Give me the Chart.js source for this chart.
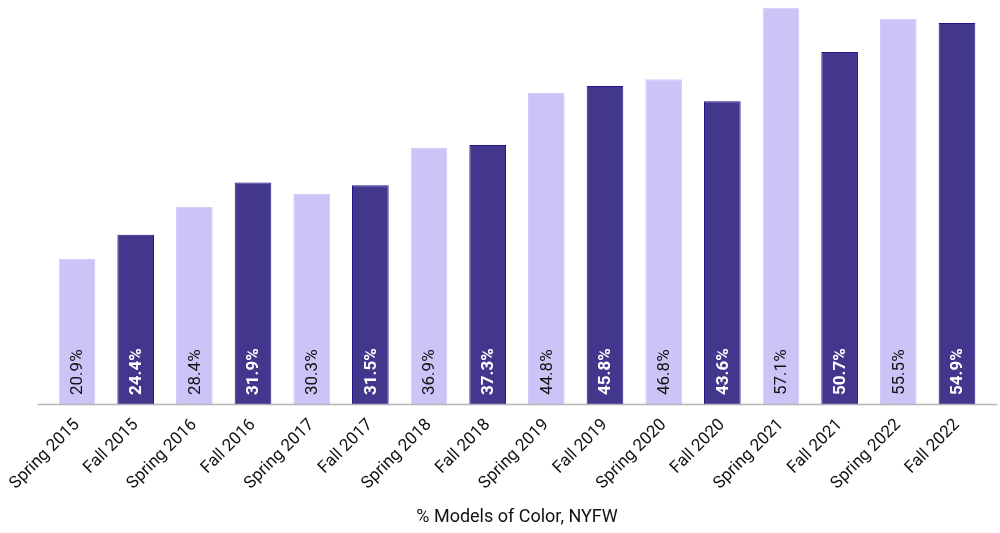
<!DOCTYPE html>
<html>
<head>
<meta charset="utf-8">
<script src="https://cdn.jsdelivr.net/npm/chart.js@4"></script>
<style>
html,body{margin:0;padding:0;background:#fff;}
#wrap{width:1000px;height:533px;position:relative;}
</style>
</head>
<body>
<div id="wrap"><canvas id="c" width="1000" height="533"></canvas></div>
<script>
const categories = ["Spring 2015","Fall 2015","Spring 2016","Fall 2016","Spring 2017","Fall 2017","Spring 2018","Fall 2018","Spring 2019","Fall 2019","Spring 2020","Fall 2020","Spring 2021","Fall 2021","Spring 2022","Fall 2022"];
const values = [20.9,24.4,28.4,31.9,30.3,31.5,36.9,37.3,44.8,45.8,46.8,43.6,57.1,50.7,55.5,54.9];
const axisTitle = "% Models of Color, NYFW";

const LIGHT = "#cbc4f6", LIGHT_BORDER = "#d2ccfb";
const DARK = "#42378c", DARK_BORDER = "#1e1689";
const isDark = categories.map(c => c.startsWith("Fall"));

const labelPlugin = {
  id: "barLabels",
  afterDatasetsDraw(chart) {
    const ctx = chart.ctx;
    const meta = chart.getDatasetMeta(0);
    const yScale = chart.scales.y;
    const base = yScale.getPixelForValue(0);
    ctx.save();
    ctx.strokeStyle = "#b4b4b4";
    ctx.lineWidth = 1.5;
    ctx.beginPath();
    ctx.moveTo(chart.chartArea.left - 10, base + 0.5);
    ctx.lineTo(chart.chartArea.right + 11, base + 0.5);
    ctx.stroke();
    meta.data.forEach((bar, i) => {
      ctx.save();
      ctx.translate(bar.x, bar.base - 9);
      ctx.rotate(-Math.PI / 2);
      ctx.textAlign = "left";
      ctx.textBaseline = "middle";
      ctx.font = (isDark[i] ? "bold " : "") + "17px Roboto";
      ctx.fillStyle = isDark[i] ? "#ffffff" : "#111111";
      ctx.fillText(values[i].toFixed(1) + "%", 0, 1);
      ctx.restore();
    });
    ctx.restore();
  }
};

new Chart(document.getElementById("c"), {
  type: "bar",
  data: {
    labels: categories,
    datasets: [{
      data: values,
      backgroundColor: isDark.map(d => d ? DARK : LIGHT),
      borderColor: isDark.map(d => d ? DARK_BORDER : LIGHT_BORDER),
      borderWidth: 1,
      barPercentage: 0.625,
      categoryPercentage: 1.0
    }]
  },
  options: {
    responsive: false,
    animation: false,
    events: [],
    layout: { padding: { left: 47.7, right: 13.7, top: 0, bottom: 0 } },
    plugins: { legend: { display: false }, tooltip: { enabled: false } },
    scales: {
      x: {
        grid: { display: false },
        border: { display: false },
        ticks: {
          color: "#111",
          font: { family: "Roboto", size: 17 },
          minRotation: 45, maxRotation: 45,
          autoSkip: false,
          padding: 3
        },
        title: {
          display: true,
          text: axisTitle,
          color: "#111",
          font: { family: "Roboto", size: 18 },
          padding: { top: 0, bottom: 5 }
        },
        afterFit(scale) { scale.height = 129; }
      },
      y: {
        display: false,
        min: 0,
        max: 58.2
      }
    }
  },
  plugins: [labelPlugin]
});
</script>
</body>
</html>
